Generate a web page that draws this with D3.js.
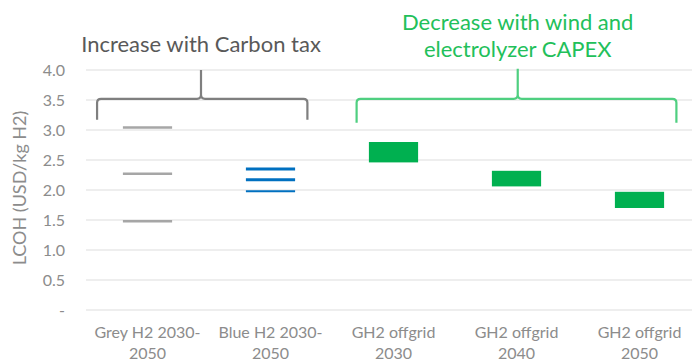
<!DOCTYPE html>
<html><head><meta charset="utf-8">
<script src="https://cdn.jsdelivr.net/npm/d3@7"></script>
<style>body{margin:0;background:#fff;} svg{display:block;font-family:Lato, "Open Sans", sans-serif;}</style>
</head><body>
<svg id="chart" width="692" height="363"></svg>
<script>
// ---- data ----
const categories = [["Grey H2 2030-","2050"],["Blue H2 2030-","2050"],["GH2 offgrid","2030"],["GH2 offgrid","2040"],["GH2 offgrid","2050"]];
const greyLines = [3.04, 2.27, 1.48];
const blueLines = [2.35, 2.17, 1.98];
const blueWidths = [3, 3, 2];
const greenLow = [2.46, 2.06, 1.70];
const greenHigh = [2.80, 2.32, 1.97];
const yTicks = [0, 0.5, 1, 1.5, 2, 2.5, 3, 3.5, 4];
const yTitle = "LCOH (USD/kg H2)";
const greyNote = ["Increase with Carbon tax"];
const greenNote = ["Decrease with wind and", "electrolyzer CAPEX"];

const svg = d3.select("#chart");
const plotL = 86, plotR = 701;
const x = d3.scaleBand().domain(d3.range(categories.length)).range([plotL, plotR]).padding(0);
const xi = d3.scaleLinear().domain([0, categories.length]).range([plotL, plotR]);
const y = d3.scaleLinear().domain([0, 4]).range([310, 70]);
const markW = x.bandwidth() * 0.4;

// gridlines
svg.append("g").selectAll("line").data(yTicks).join("line")
  .attr("x1", plotL).attr("x2", 692)
  .attr("y1", d => y(d)).attr("y2", d => y(d))
  .attr("stroke", "#e8e8e8").attr("stroke-width", 1.5);

// y axis labels
const yAxis = d3.axisLeft(y).tickValues(yTicks).tickSize(0).tickPadding(0)
  .tickFormat(d => d === 0 ? "-" : d3.format(".1f")(d));
const gy = svg.append("g").attr("transform", "translate(65,0)").call(yAxis);
gy.select(".domain").remove();
gy.selectAll("text").attr("fill", "#8c8c8c").style("font-size", "16px").style("font-family", "Lato, sans-serif");

svg.append("text").attr("transform", "translate(26,188) rotate(-90)")
  .attr("text-anchor", "middle").attr("fill", "#8c8c8c").style("font-size", "18px").text(yTitle);

// x labels
const xl = svg.append("g").selectAll("text").data(categories).join("text")
  .attr("text-anchor", "middle").attr("fill", "#8c8c8c").style("font-size", "16px")
  .attr("x", (d, i) => x(i) + x.bandwidth() / 2);
xl.selectAll("tspan").data(d => d).join("tspan")
  .attr("x", function () { return d3.select(this.parentNode).attr("x"); })
  .attr("y", (d, j) => 338 + j * 21).text(d => d);

// grey lines
const gx = x(0) + x.bandwidth() / 2;
svg.append("g").selectAll("line").data(greyLines).join("line")
  .attr("x1", gx - markW / 2).attr("x2", gx + markW / 2)
  .attr("y1", d => y(d)).attr("y2", d => y(d))
  .attr("stroke", "#a6a6a6").attr("stroke-width", 2.5);

// blue lines
const bx = x(1) + x.bandwidth() / 2;
svg.append("g").selectAll("line").data(blueLines).join("line")
  .attr("x1", bx - markW / 2).attr("x2", bx + markW / 2)
  .attr("y1", d => y(d)).attr("y2", d => y(d))
  .attr("stroke", "#0070c0").attr("stroke-width", (d, i) => blueWidths[i]);

// green boxes
svg.append("g").selectAll("rect").data(greenLow).join("rect")
  .attr("x", (d, i) => x(i + 2) + x.bandwidth() / 2 - markW / 2)
  .attr("width", markW)
  .attr("y", (d, i) => y(greenHigh[i]))
  .attr("height", (d, i) => y(d) - y(greenHigh[i]))
  .attr("fill", "#00b050");

// braces
function brace(x0, x1, xm, yb, yt, ye, color) {
  const r = 4;
  const p = d3.path();
  p.moveTo(x0, ye);
  p.lineTo(x0, yb + r);
  p.quadraticCurveTo(x0, yb, x0 + r, yb);
  p.lineTo(xm - r, yb);
  p.quadraticCurveTo(xm, yb, xm, yb - r);
  p.lineTo(xm, yt);
  p.moveTo(xm, yb - r);
  p.quadraticCurveTo(xm, yb, xm + r, yb);
  p.lineTo(x1 - r, yb);
  p.quadraticCurveTo(x1, yb, x1, yb + r);
  p.lineTo(x1, ye);
  svg.append("path").attr("d", p.toString()).attr("fill", "none")
    .attr("stroke", color).attr("stroke-width", 2.2);
}
brace(xi(0.09), xi(1.8), xi(0.935), y(3.52), y(4.0), y(3.17), "#7f7f7f");
brace(xi(2.2), xi(4.8), xi(3.51), y(3.52), y(4.02), y(3.12), "#4fcf80");

svg.append("text").attr("x", xi(0.935)).attr("y", 52).attr("text-anchor", "middle")
  .attr("fill", "#595959").style("font-size", "22px").text(greyNote[0]);
svg.append("g").selectAll("text").data(greenNote).join("text")
  .attr("x", xi(3.51)).attr("y", (d, i) => 30 + i * 27).attr("text-anchor", "middle")
  .attr("fill", "#22c05a").style("font-size", "22px").text(d => d);
</script>
</body></html>
